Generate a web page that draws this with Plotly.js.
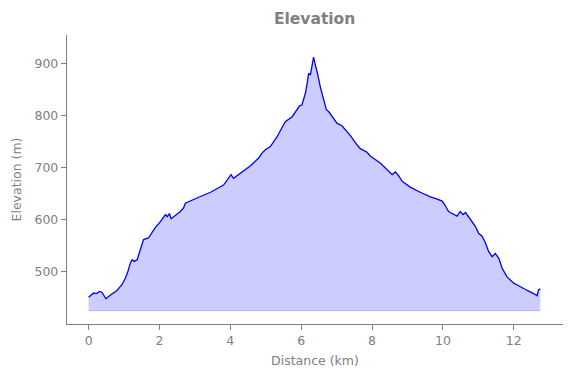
<!DOCTYPE html>
<html>
<head>
<meta charset="utf-8">
<script src="https://cdn.plot.ly/plotly-3.0.1.min.js"></script>
<style>html,body{margin:0;padding:0;background:#fff;}#chart{width:571px;height:378px;}</style>
</head>
<body>
<div id="chart"></div>
<script>
// Distance along the route (km)
const distanceKm = [0.00,0.10,0.14,0.22,0.31,0.38,0.49,0.59,0.69,0.80,0.94,1.04,1.11,1.18,1.23,1.29,1.37,1.44,1.51,1.55,1.69,1.80,1.88,2.02,2.11,2.17,2.22,2.28,2.33,2.45,2.53,2.59,2.68,2.73,3.06,3.44,3.81,3.95,4.02,4.09,4.28,4.57,4.80,4.90,4.99,5.13,5.32,5.55,5.74,5.88,5.96,6.02,6.07,6.12,6.17,6.21,6.26,6.31,6.35,6.40,6.45,6.54,6.63,6.71,6.78,6.92,7.01,7.15,7.39,7.58,7.67,7.86,7.95,8.24,8.38,8.57,8.66,8.75,8.85,9.08,9.36,9.65,9.84,9.98,10.07,10.16,10.21,10.40,10.49,10.57,10.64,10.78,10.92,11.01,11.11,11.20,11.29,11.39,11.48,11.58,11.67,11.81,12.00,12.14,12.24,12.38,12.56,12.66,12.70,12.75];
// Elevation (m)
const elevationM = [451,456,459,458,462,460,448,454,458,464,475,488,501,517,523,520,523,539,555,562,565,577,585,596,604,610,606,612,602,608,612,616,623,632,642,653,667,680,687,680,690,704,719,729,735,741,760,789,798,812,820,821,834,844,863,882,879,895,913,898,885,856,831,812,808,796,786,781,762,744,737,730,723,709,699,687,692,685,674,663,653,644,640,636,627,616,614,607,616,610,614,601,587,574,568,556,539,529,535,526,507,490,478,473,469,464,458,454,465,467];
// Fill baseline (m)
const baseElevation = 425;

const baseline = distanceKm.map(() => baseElevation);
const gray = '#808080';

const traces = [
  {x: distanceKm, y: baseline, mode: 'lines', line: {color: 'rgba(0,0,255,0.2)', width: 1}, hoverinfo: 'skip', showlegend: false},
  {x: distanceKm, y: elevationM, mode: 'lines', fill: 'tonexty', fillcolor: 'rgba(0,0,255,0.2)', line: {color: '#0000ff', width: 1.3}, showlegend: false}
];

const axisCommon = {
  showline: true, linecolor: gray, linewidth: 1.2, mirror: false,
  ticks: 'outside', ticklen: 5, tickwidth: 1, tickcolor: gray,
  showgrid: false, zeroline: false,
  tickfont: {family: 'DejaVu Sans', size: 12.5, color: gray}
};

const layout = {
  width: 571, height: 378,
  paper_bgcolor: '#fff', plot_bgcolor: '#fff',
  margin: {l: 67, r: 8, t: 35, b: 54, pad: 0},
  title: {text: '<b>Elevation</b>', font: {family: 'DejaVu Sans', size: 15.5, color: gray}, x: 0.551, xref: 'container', y: 0.952, yref: 'container', yanchor: 'middle'},
  xaxis: Object.assign({}, axisCommon, {
    range: [-0.61, 13.39], tickvals: [0,2,4,6,8,10,12],
    title: {text: 'Distance (km)', font: {family: 'DejaVu Sans', size: 12.5, color: gray}, standoff: 9}
  }),
  yaxis: Object.assign({}, axisCommon, {
    range: [399.4, 955.8], tickvals: [500,600,700,800,900],
    title: {text: 'Elevation (m)', font: {family: 'DejaVu Sans', size: 12.5, color: gray}, standoff: 10}
  })
};

Plotly.newPlot('chart', traces, layout, {displayModeBar: false, staticPlot: true});
</script>
</body>
</html>
